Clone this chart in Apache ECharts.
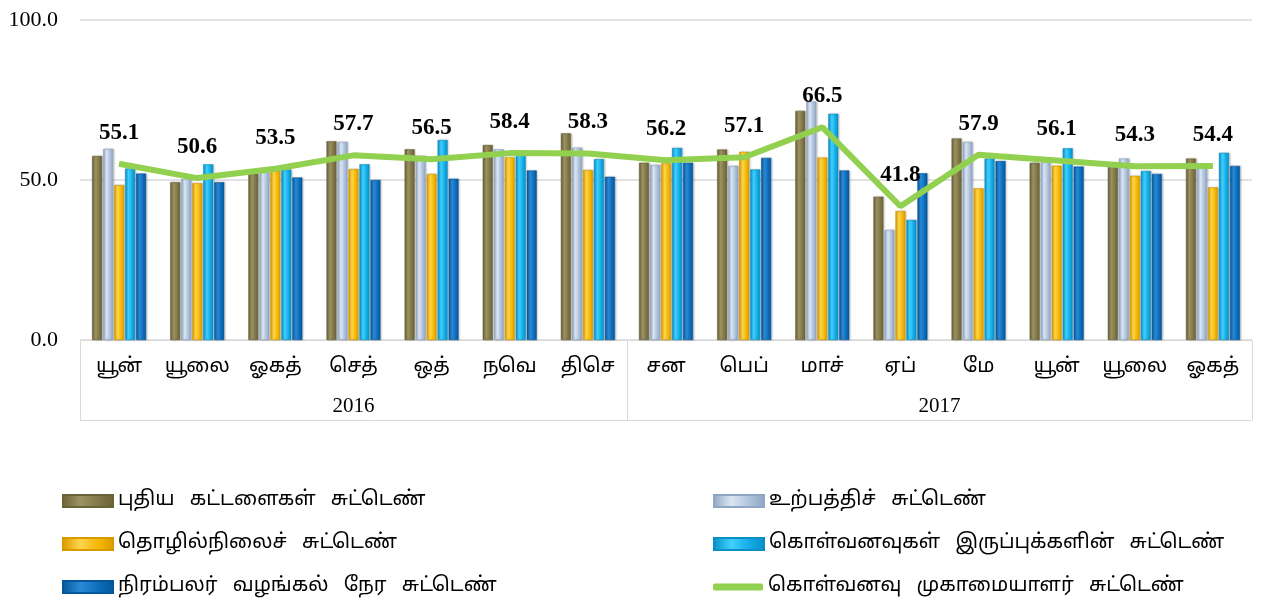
<!DOCTYPE html>
<html>
<head>
<meta charset="utf-8">
<script src="https://cdn.jsdelivr.net/npm/echarts@6/dist/echarts.min.js"></script>
<style>
  html, body { margin: 0; padding: 0; background: #fff; }
  #main { width: 1262px; height: 600px; }
</style>
</head>
<body>
<div id="main"></div>
<script>
  // 月份 / 年份
  const months = ['யூன்', 'யூலை', 'ஓகத்', 'செத்', 'ஒத்', 'நவெ', 'திசெ', 'சன', 'பெப்', 'மாச்', 'ஏப்', 'மே', 'யூன்', 'யூலை', 'ஓகத்']
  const years = ['2016', '2017']
  const yearSpans = [7, 8]
  const yTicks = [0, 50, 100]

  const seriesNames = [
    'புதிய கட்டளைகள் சுட்டெண்',
    'உற்பத்திச் சுட்டெண்',
    'தொழில்நிலைச் சுட்டெண்',
    'கொள்வனவுகள் இருப்புக்களின் சுட்டெண்',
    'நிரம்பலர் வழங்கல் நேர சுட்டெண்',
    'கொள்வனவு முகாமையாளர் சுட்டெண்'
  ]

  const newOrders = [57.5, 49.3, 52.0, 62.1, 59.6, 60.9, 64.6, 55.4, 59.5, 71.6, 44.8, 63.0, 55.4, 55.0, 56.7]
  const production = [59.7, 50.3, 52.5, 61.9, 57.5, 59.6, 60.1, 54.7, 54.4, 74.5, 34.4, 61.9, 55.5, 56.7, 54.7]
  const employment = [48.4, 49.0, 53.0, 53.4, 51.9, 57.1, 53.1, 55.2, 58.8, 57.0, 40.3, 47.4, 54.5, 51.3, 47.7]
  const stocks = [53.6, 54.9, 53.3, 54.9, 62.5, 58.0, 56.5, 60.0, 53.3, 70.7, 37.5, 56.7, 59.9, 52.8, 58.5]
  const delivery = [52.0, 49.3, 50.8, 50.0, 50.4, 53.0, 51.0, 55.4, 56.9, 53.0, 52.1, 55.9, 54.2, 51.9, 54.4]
  const pmi = [55.1, 50.6, 53.5, 57.7, 56.5, 58.4, 58.3, 56.2, 57.1, 66.5, 41.8, 57.9, 56.1, 54.3, 54.4]

  const barColors = [
    ['#6b6236', '#9c9263', '#7d7444'],
    ['#8fa6c4', '#dbe6f3', '#a9bdd8'],
    ['#d99a00', '#ffd54a', '#f2b400'],
    ['#0a8fc4', '#3fd0ff', '#10a8e2'],
    ['#05579b', '#2a8ad6', '#0a6ab8']
  ]
  const barData = [newOrders, production, employment, stocks, delivery]

  const tamilFont = '"Noto Sans Tamil", "Latha", "Lohit Tamil", "Noto Sans", sans-serif'
  const serifFont = '"Liberation Serif", "Times New Roman", serif'

  // 年份分组的边界与中心
  const yearBounds = [0]
  yearSpans.forEach(s => yearBounds.push(yearBounds[yearBounds.length - 1] + s))
  const yearCenters = years.map((y, i) => (yearBounds[i] + yearBounds[i + 1]) / 2)

  function bevel(c) {
    return new echarts.graphic.LinearGradient(0, 0, 1, 0, [
      { offset: 0, color: c[0] },
      { offset: 0.35, color: c[1] },
      { offset: 0.75, color: c[2] },
      { offset: 1, color: c[0] }
    ])
  }

  const myChart = echarts.init(document.getElementById('main'))

  const series = barData.map((d, i) => ({
    name: seriesNames[i],
    type: 'bar',
    xAxisIndex: 0,
    barWidth: 10,
    barGap: '10%',
    itemStyle: {
      color: bevel(barColors[i]),
      borderColor: barColors[i][0],
      borderWidth: 0.5,
      shadowColor: 'rgba(0, 0, 0, 0.25)',
      shadowBlur: 2,
      shadowOffsetX: 1
    },
    data: d
  }))

  series.push({
    name: seriesNames[5],
    type: 'line',
    xAxisIndex: 0,
    symbol: 'circle',
    symbolSize: 1,
    showSymbol: true,
    z: 5,
    lineStyle: { color: '#92d050', width: 6 },
    itemStyle: { color: '#92d050' },
    label: {
      show: true,
      position: 'top',
      distance: 19,
      color: '#000',
      fontFamily: serifFont,
      fontWeight: 'bold',
      fontSize: 23,
      formatter: p => Number(p.value).toFixed(1)
    },
    data: pmi
  })

  // 图例文字中词间距较宽
  const wide = name => name.split(' ').join(' \u2002')
  const legendBase = {
    orient: 'vertical', itemWidth: 50, itemHeight: 12, itemGap: 23, padding: 0,
    icon: 'rect', formatter: wide,
    textStyle: { fontFamily: tamilFont, fontSize: 20, color: '#000', lineHeight: 20 }
  }

  myChart.setOption({
    animation: false,
    grid: { left: 80, right: 10, top: 20, bottom: 260 },
    legend: [
      Object.assign({}, legendBase, { left: 62, top: 491, data: [seriesNames[0], seriesNames[2], seriesNames[4]] }),
      Object.assign({}, legendBase, { left: 713, top: 491, data: [seriesNames[1], seriesNames[3]] }),
      Object.assign({}, legendBase, {
        left: 713, top: 577, itemHeight: 7, icon: 'roundRect',
        itemStyle: { color: '#92d050' },
        data: [seriesNames[5]]
      })
    ],
    xAxis: [{
      type: 'category',
      data: months,
      position: 'bottom',
      axisLine: { show: true, lineStyle: { color: '#d9d9d9', width: 1 } },
      axisTick: { show: false },
      axisLabel: { color: '#000', fontFamily: tamilFont, fontSize: 20, margin: 18, interval: 0 }
    }, {
      // 年份分组
      type: 'value',
      min: 0,
      max: months.length,
      position: 'bottom',
      axisLine: { show: false },
      splitLine: { show: false },
      axisTick: {
        show: true,
        customValues: yearBounds,
        length: 80,
        lineStyle: { color: '#d9d9d9', width: 1 }
      },
      axisLabel: {
        customValues: yearCenters,
        margin: 56,
        color: '#000',
        fontFamily: serifFont,
        fontSize: 21,
        formatter: v => years[yearCenters.indexOf(v)]
      }
    }, {
      // 底边线
      type: 'value',
      min: 0,
      max: months.length,
      position: 'bottom',
      offset: 80,
      axisLine: { show: true, lineStyle: { color: '#d9d9d9', width: 1 } },
      axisTick: { show: false },
      axisLabel: { show: false },
      splitLine: { show: false }
    }],
    yAxis: [{
      type: 'value',
      min: 0,
      max: 100,
      interval: 50,
      axisLine: { show: false },
      axisTick: { show: false },
      splitLine: { show: true, lineStyle: { color: '#d9d9d9', width: 1.5 } },
      axisLabel: {
        color: '#000',
        fontFamily: serifFont,
        fontSize: 22,
        margin: 22,
        customValues: yTicks,
        formatter: v => v.toFixed(1)
      }
    }],
    series: series
  })
</script>
</body>
</html>
